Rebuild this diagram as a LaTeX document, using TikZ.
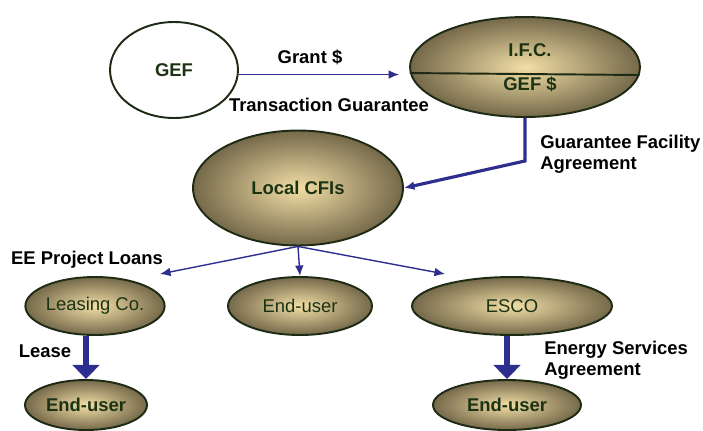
\documentclass[tikz,border=0pt]{standalone}
\usepackage{fontspec}
\setmainfont{Liberation Sans}
\usetikzlibrary{shapes.geometric,arrows.meta}
\definecolor{rim}{HTML}{1E2B14}
\definecolor{inktext}{HTML}{1B3312}
\definecolor{sandlight}{HTML}{F2DEA6}
\definecolor{sanddark}{HTML}{75694A}
\definecolor{flowblue}{HTML}{2E2E8F}
\begin{document}
\begin{tikzpicture}[x=0.02cm,y=-0.02cm]
		\tikzset{party/.style = {shape=ellipse,draw=rim,line width=1.1pt,inner color=sandlight,outer color=sanddark,text=inktext,font=\fontsize{10.5}{12}\selectfont\bfseries,inner sep=0pt}}
		\tikzset{label/.style = {font=\fontsize{10.5}{12}\selectfont\bfseries,align=left,inner sep=0pt}}
		\tikzset{flow/.style = {-{Latex[length=6pt,width=5pt]},draw=flowblue,line width=0.8pt}}
		\tikzset{bigflow/.style = {-{Triangle[length=8pt,width=15pt]},draw=flowblue,line width=3pt}}
		\useasboundingbox (0,0) rectangle (703,430);
		% top row
		\node[party,fill=white,inner color=white,outer color=white,minimum width=2.56cm,minimum height=1.92cm] (gef) at (174,70) {GEF};
		\node[party,minimum width=4.6cm,minimum height=2cm] (ifc) at (525,67) {};
		\draw[rim,line width=1.1pt] (ifc.183.5) -- (ifc.356.5);
		\node[text=inktext,label] (ifctop) at (530,50) {I.F.C.};
		\node[text=inktext,label] (ifcbot) at (530,84) {GEF \$};
		\draw[flow,shorten >=0.2cm] (gef.356) -- (ifc.west |- gef.356);
		\node[label] (grant) at (310,57) {Grant \$};
		\node[label] (guar) at (329,105) {Transaction Guarantee};
		% local CFIs
		\node[party,minimum width=4.2cm,minimum height=2.3cm] (cfi) at (298,188) {Local CFIs};
		\draw[flow,line width=1.8pt] (ifc.south) -- ++(0,43) -- (cfi.east);
		\node[label,anchor=west] (facility) at (540,154) {Guarantee Facility\\Agreement};
		% second row
		\node[party,font=\fontsize{10.5}{12}\selectfont,minimum width=2.72cm,minimum height=1.16cm] (leasing) at (95,306) {Leasing Co.};
		\node[party,font=\fontsize{10.5}{12}\selectfont,minimum width=2.88cm,minimum height=1.16cm] (enduser) at (300,306) {End-user};
		\node[party,font=\fontsize{10.5}{12}\selectfont,minimum width=4cm,minimum height=1.16cm] (esco) at (512,306) {ESCO};
		\coordinate (loans) at (160,274);
		\coordinate (escotip) at (445,274);
		\draw[flow] (cfi.south) -- (loans);
		\draw[flow] (cfi.south) -- (enduser.north);
		\draw[flow] (cfi.south) -- (escotip);
		\node[label] (eeloans) at (87,260) {EE Project Loans};
		% bottom row
		\node[party,minimum width=2.44cm,minimum height=1cm] (userleft) at (86,405) {End-user};
		\node[party,minimum width=2.96cm,minimum height=1cm] (userright) at (507,405) {End-user};
		\draw[bigflow] (userleft.north |- leasing.south) -- (userleft.north);
		\draw[bigflow] (userright.north |- esco.south) -- (userright.north);
		\node[label] (lease) at (45,351) {Lease};
		\node[label,anchor=west] (esa) at (544,360) {Energy Services\\Agreement};
	\end{tikzpicture}
\end{document}
